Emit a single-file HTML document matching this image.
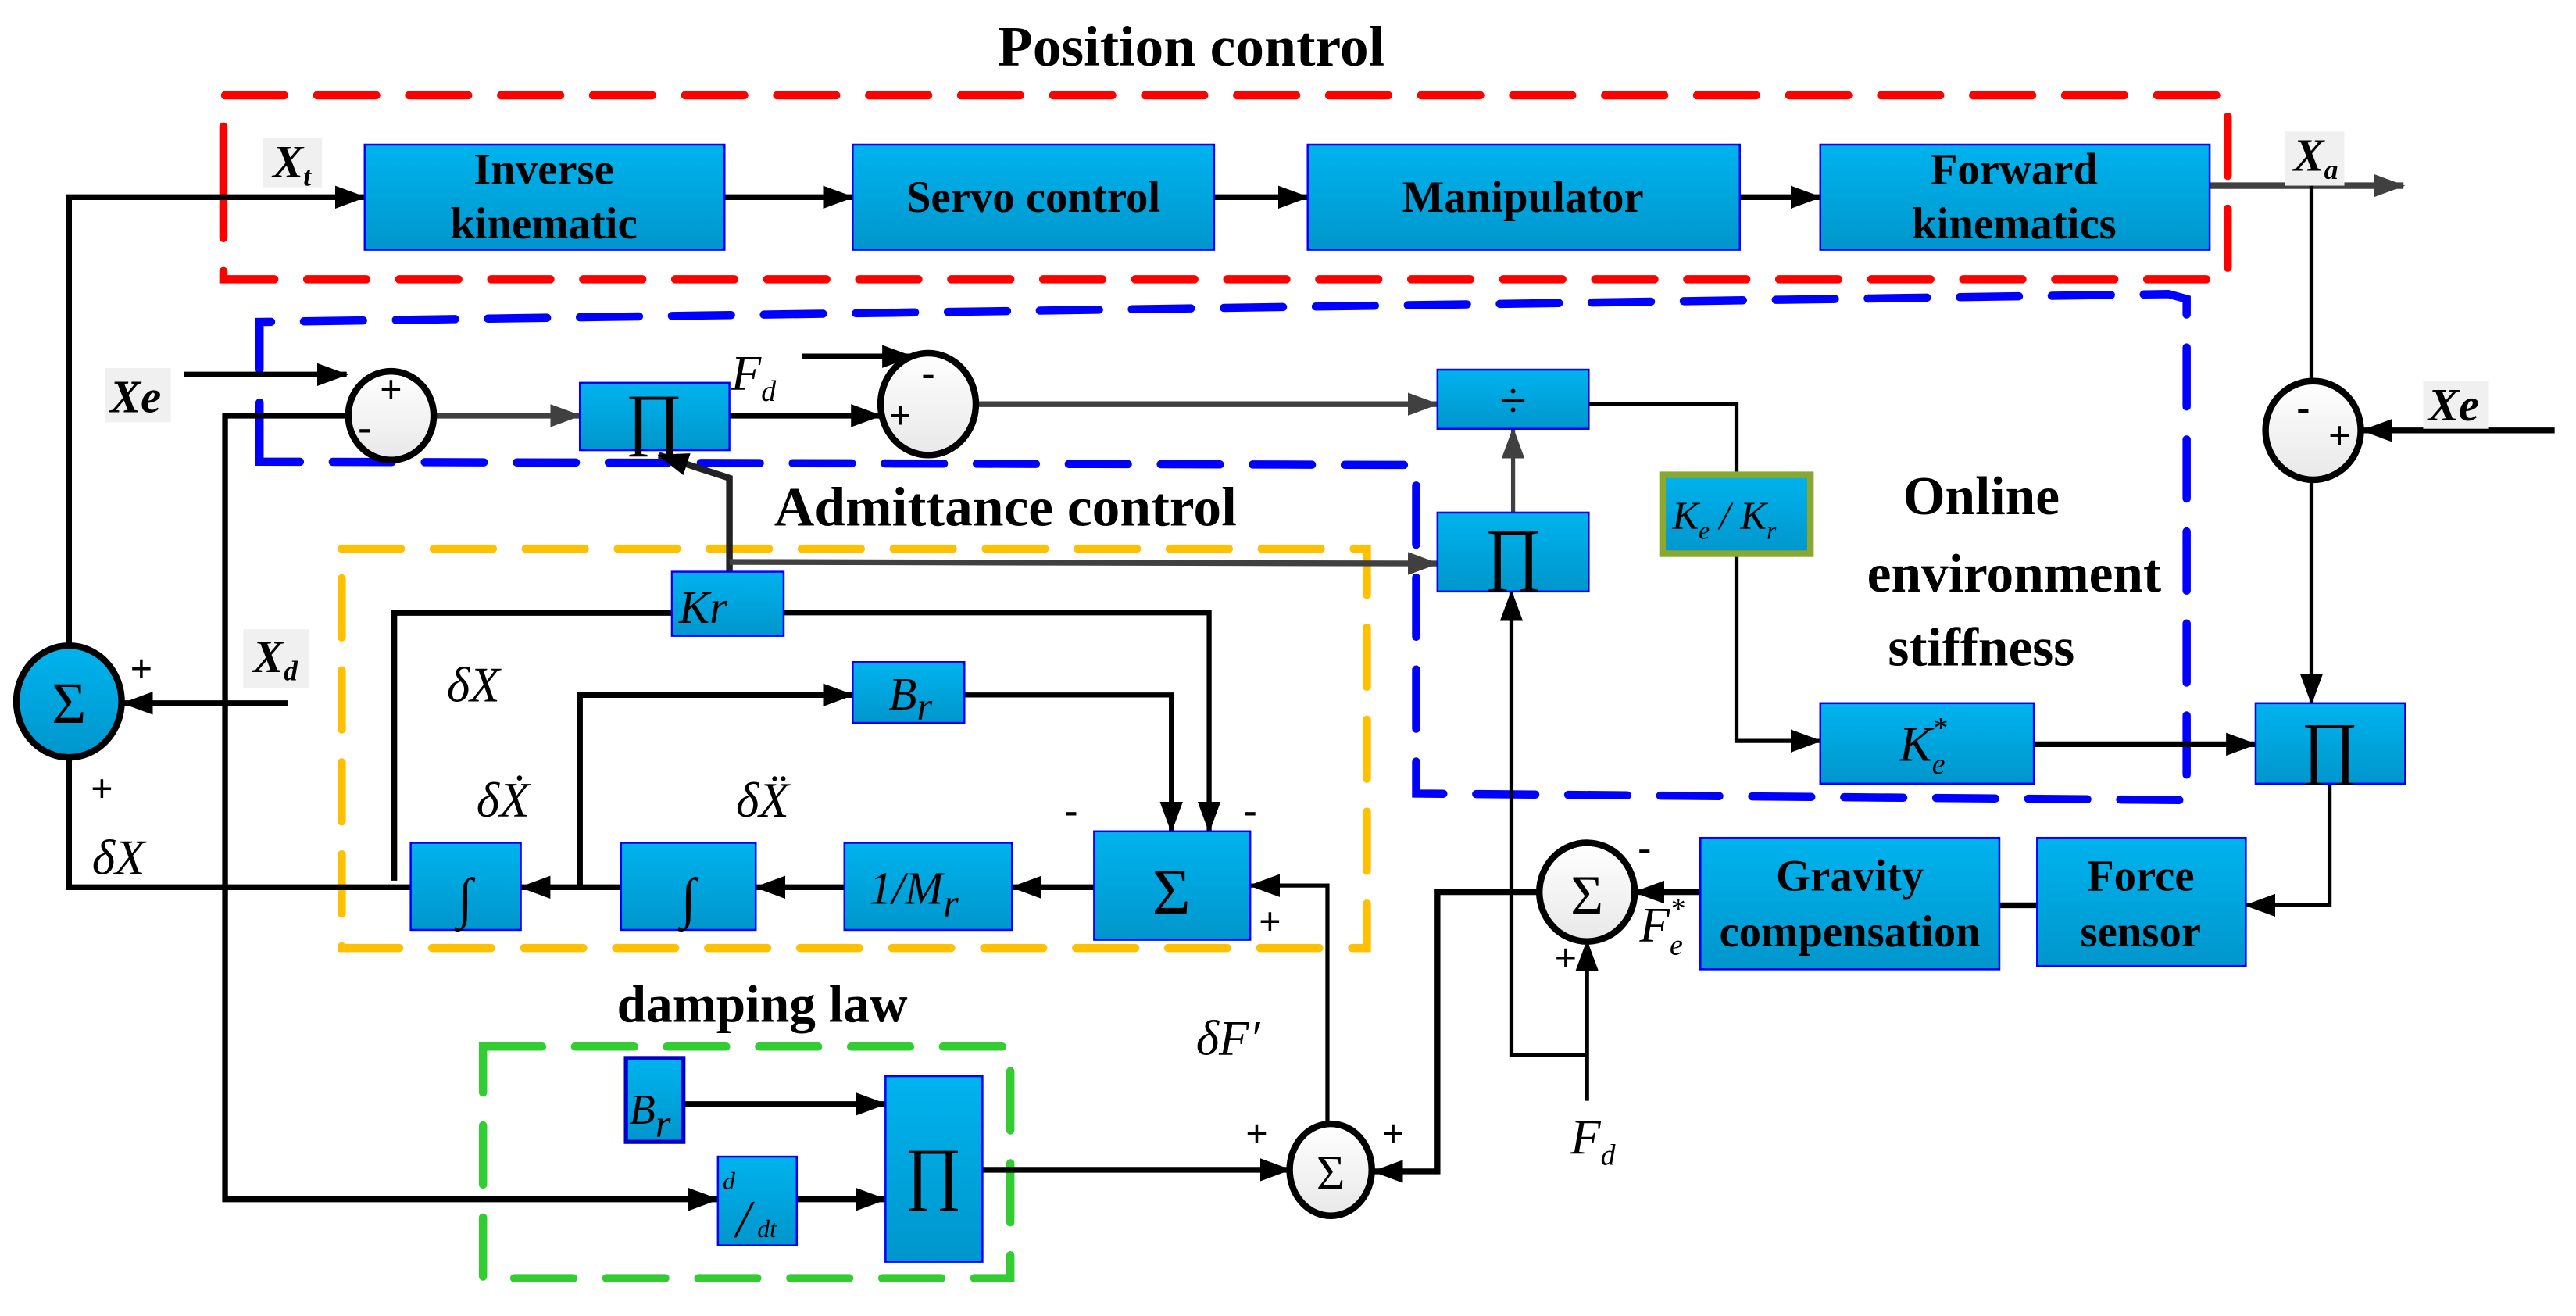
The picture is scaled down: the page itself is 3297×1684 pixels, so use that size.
<!DOCTYPE html>
<html><head><meta charset="utf-8"><style>
html,body{margin:0;padding:0;background:#fff;}
svg{display:block;}
text{font-family:"Liberation Serif",serif;}
.b{font-weight:bold;}
.i{font-style:italic;}
</style></head><body>
<svg width="3297" height="1684" viewBox="0 0 1568 801" preserveAspectRatio="none" xmlns="http://www.w3.org/2000/svg">
<defs>
<linearGradient id="g" x1="0" y1="0" x2="0" y2="1"><stop offset="0" stop-color="#00b3ee"/><stop offset="1" stop-color="#0096cc"/></linearGradient>
<linearGradient id="w" x1="0" y1="0" x2="0" y2="1"><stop offset="0" stop-color="#ffffff"/><stop offset="1" stop-color="#e8e8e8"/></linearGradient>
<marker id="a" markerWidth="19" markerHeight="14" refX="18" refY="7" orient="auto" markerUnits="userSpaceOnUse"><path d="M0,0 L19,7 L0,14 Z" fill="#000"/></marker>
<marker id="ag" markerWidth="19" markerHeight="14" refX="18" refY="7" orient="auto" markerUnits="userSpaceOnUse"><path d="M0,0 L19,7 L0,14 Z" fill="#404040"/></marker>
</defs>

<text x="725" y="40" class="b" font-size="35" text-anchor="middle">Position control</text>
<text x="612" y="320" class="b" font-size="34" text-anchor="middle">Admittance control</text>
<text x="1206" y="313" class="b" font-size="33" text-anchor="middle">Online</text>
<text x="1226" y="360" class="b" font-size="33" text-anchor="middle">environment</text>
<text x="1206" y="405" class="b" font-size="33" text-anchor="middle">stiffness</text>
<text x="464" y="622" class="b" font-size="32" text-anchor="middle">damping law</text>

<g fill="none" stroke-width="5" stroke-linecap="round" stroke-dasharray="36 20">
<path d="M136,113 L136,58 L1356,58 L1356,170 L136,170 Z" stroke="#ff0000"/>
<path d="M158,281 L158,196 L1320,179 L1331,182 L1331,487 L862,483 L862,283 Z" stroke="#0000ff"/>
<path d="M208,334 L832,334 L832,577 L208,577 Z" stroke="#ffc000"/>
<path d="M294,637 L615,637 L615,778 L294,778 Z" stroke="#33cc33"/>
</g>

<g stroke="#000" stroke-width="3.5" fill="none">
<path d="M42,393 L42,120 L222,120" marker-end="url(#a)"/>
<path d="M441,120 L519,120" marker-end="url(#a)"/>
<path d="M739,120 L796,120" marker-end="url(#a)"/>
<path d="M1059,120 L1108,120" marker-end="url(#a)"/>
<path d="M1345,113 L1463,113" stroke="#404040" stroke-width="4" marker-end="url(#ag)"/>
<path d="M1407,113 L1407,232" stroke-width="2.5"/>
<path d="M1407,292 L1407,428" stroke-width="2.5" marker-end="url(#a)"/>
<path d="M1555,262 L1438,262" marker-end="url(#a)"/>
<path d="M1418,477 L1418,551 L1367,551" stroke-width="2.5" marker-end="url(#a)"/>
<path d="M1240,551 L1217,551"/>
<path d="M1035,543 L995,543" marker-end="url(#a)"/>
<path d="M937,543 L875,543 L875,713 L836,713" marker-end="url(#a)"/>
<path d="M966,670 L966,573" stroke-width="2.5" marker-end="url(#a)"/>
<path d="M966,642 L920,642 L920,360" stroke-width="2.5" marker-end="url(#a)"/>
<path d="M921,312 L921,261" stroke="#404040" stroke-width="2.5" marker-end="url(#ag)"/>
<path d="M967,246 L1057,246 L1057,451 L1108,451" stroke-width="2.5" marker-end="url(#a)"/>
<path d="M1238,453 L1373,453" marker-end="url(#a)"/>
<path d="M808,685 L808,539 L761,539" stroke-width="2.5" marker-end="url(#a)"/>
<path d="M666,540 L616,540" marker-end="url(#a)"/>
<path d="M514,540 L460,540" marker-end="url(#a)"/>
<path d="M378,540 L317,540" marker-end="url(#a)"/>
<path d="M353,540 L353,423 L519,423" marker-end="url(#a)"/>
<path d="M587,423 L713,423 L713,506" stroke-width="3" marker-end="url(#a)"/>
<path d="M240,536 L240,373 L409,373"/>
<path d="M477,373 L736,373 L736,506" stroke-width="3" marker-end="url(#a)"/>
<path d="M250,540 L42,540 L42,462"/>
<path d="M175,428 L75,428" marker-end="url(#a)"/>
<path d="M112,228 L211,228" marker-end="url(#a)"/>
<path d="M210,253 L137,253 L137,730 L437,730" marker-end="url(#a)"/>
<path d="M264,253 L353,253" stroke="#404040" marker-end="url(#ag)"/>
<path d="M444,253 L536,253" marker-end="url(#a)"/>
<path d="M488,217 L555,217" marker-end="url(#a)"/>
<path d="M594,246 L875,246" stroke="#404040" marker-end="url(#ag)"/>
<path d="M444,348 L444,291 L401,277" stroke="#222" stroke-width="4" marker-end="url(#a)"/>
<path d="M444,342 L875,343" stroke="#404040" marker-end="url(#ag)"/>
<path d="M416,672 L539,672" marker-end="url(#a)"/>
<path d="M485,730 L539,730" marker-end="url(#a)"/>
<path d="M598,712 L785,712" marker-end="url(#a)"/>
</g>

<g fill="url(#g)" stroke="#0000ff" stroke-width="1.2">
<rect x="222" y="88" width="219" height="64"/>
<rect x="519" y="88" width="220" height="64"/>
<rect x="796" y="88" width="263" height="64"/>
<rect x="1108" y="88" width="237" height="64"/>
<rect x="353" y="233" width="91" height="41"/>
<rect x="875" y="225" width="92" height="36"/>
<rect x="875" y="312" width="92" height="48"/>
<rect x="1108" y="428" width="130" height="49"/>
<rect x="1373" y="428" width="91" height="49"/>
<rect x="1240" y="510" width="127" height="78"/>
<rect x="1035" y="510" width="182" height="80"/>
<rect x="409" y="348" width="68" height="39"/>
<rect x="519" y="403" width="68" height="37"/>
<rect x="666" y="506" width="95" height="66"/>
<rect x="514" y="513" width="102" height="53"/>
<rect x="378" y="513" width="82" height="53"/>
<rect x="250" y="513" width="67" height="53"/>
<rect x="437" y="704" width="48" height="54"/>
<rect x="539" y="655" width="59" height="113"/>
<rect x="381" y="644" width="35" height="51" stroke="#0000cc" stroke-width="2.5"/>
<rect x="1012" y="289" width="90" height="48" stroke="#8aa830" stroke-width="4"/>
</g>

<g stroke="#000" stroke-width="4">
<ellipse cx="42" cy="427" rx="32" ry="34" fill="url(#g)"/>
<ellipse cx="238" cy="253" rx="26" ry="27" fill="url(#w)"/>
<ellipse cx="565" cy="246" rx="29" ry="31" fill="url(#w)"/>
<ellipse cx="1408" cy="262" rx="29" ry="30" fill="url(#w)"/>
<ellipse cx="966" cy="543" rx="29" ry="30" fill="url(#w)"/>
<ellipse cx="810" cy="712" rx="25" ry="28" fill="url(#w)"/>
</g>

<g font-size="27" text-anchor="middle" font-weight="bold">
<text x="331" y="112">Inverse</text><text x="331" y="145">kinematic</text>
<text x="629" y="129">Servo control</text>
<text x="927" y="129">Manipulator</text>
<text x="1226" y="112">Forward</text><text x="1226" y="145">kinematics</text>
<text x="1126" y="542">Gravity</text><text x="1126" y="576">compensation</text>
<text x="1303" y="542">Force</text><text x="1303" y="576">sensor</text>
</g>
<g text-anchor="middle" font-size="42">
<text x="398" y="269">∏</text>
<text x="921" y="351">∏</text>
<text x="1418" y="469">∏</text>
<text x="568" y="728">∏</text>
<text x="921" y="254" font-size="30">÷</text>
<text x="713" y="556" font-size="40">Σ</text>
<text x="42" y="440" font-size="36">Σ</text>
<text x="966" y="556" font-size="34">Σ</text>
<text x="810" y="724" font-size="30">Σ</text>
<text x="283" y="558" font-size="34" class="i">∫</text>
<text x="419" y="558" font-size="34" class="i">∫</text>
</g>
<g class="i" font-size="28">
<text x="428" y="379" text-anchor="middle">Kr</text>
<text x="541" y="432">B<tspan font-size="24" dy="6">r</tspan></text>
<text x="529" y="550">1/M<tspan font-size="24" dy="8">r</tspan></text>
<text x="383" y="684" font-size="26">B<tspan font-size="24" dy="8">r</tspan></text>
<text x="440" y="724" font-size="15">d</text><text x="448" y="753" font-size="32">/</text><text x="461" y="753" font-size="15">dt</text>
<text x="1018" y="322" font-size="24">K<tspan font-size="15" dy="6">e</tspan><tspan dy="-6"> / K</tspan><tspan font-size="15" dy="6">r</tspan></text>
<text x="1156" y="463" font-size="30">K<tspan font-size="18" dy="8">e</tspan><tspan font-size="18" dx="-8" dy="-22">*</tspan></text>
</g>

<g fill="#f0f0f0"><rect x="160" y="84" width="36" height="30"/><rect x="64" y="224" width="40" height="33"/><rect x="1391" y="80" width="36" height="33"/><rect x="1475" y="232" width="40" height="29"/><rect x="148" y="383" width="40" height="36"/></g>
<g class="i" font-size="28" font-weight="bold">
<text x="166" y="108">X<tspan font-size="17" dy="5">t</tspan></text>
<text x="67" y="251">Xe</text>
<text x="1396" y="104">X<tspan font-size="17" dy="5">a</tspan></text>
<text x="1478" y="256">Xe</text>
<text x="154" y="409">X<tspan font-size="17" dy="5">d</tspan></text>
</g>
<g class="i" font-size="30">
<text x="445" y="237">F<tspan font-size="18" dy="7">d</tspan></text>
<text x="956" y="702">F<tspan font-size="18" dy="7">d</tspan></text>
<text x="998" y="573">F<tspan font-size="18" dy="8">e</tspan><tspan font-size="18" dx="-8" dy="-22">*</tspan></text>
<text x="272" y="427">δX</text>
<text x="290" y="497">δẊ</text>
<text x="448" y="497">δẌ</text>
<text x="56" y="532">δX</text>
<text x="728" y="642">δF′</text>
</g>
<g font-size="24" font-weight="bold" text-anchor="middle">
<text x="86" y="415">+</text><text x="62" y="488">+</text>
<text x="238" y="245">+</text><text x="222" y="268">-</text>
<text x="565" y="235">-</text><text x="548" y="261">+</text>
<text x="1402" y="256">-</text><text x="1424" y="273">+</text>
<text x="1001" y="524">-</text><text x="953" y="591">+</text>
<text x="652" y="501">-</text><text x="761" y="501">-</text><text x="773" y="569">+</text>
<text x="765" y="698">+</text><text x="848" y="698">+</text>
</g>
</svg>
</body></html>
